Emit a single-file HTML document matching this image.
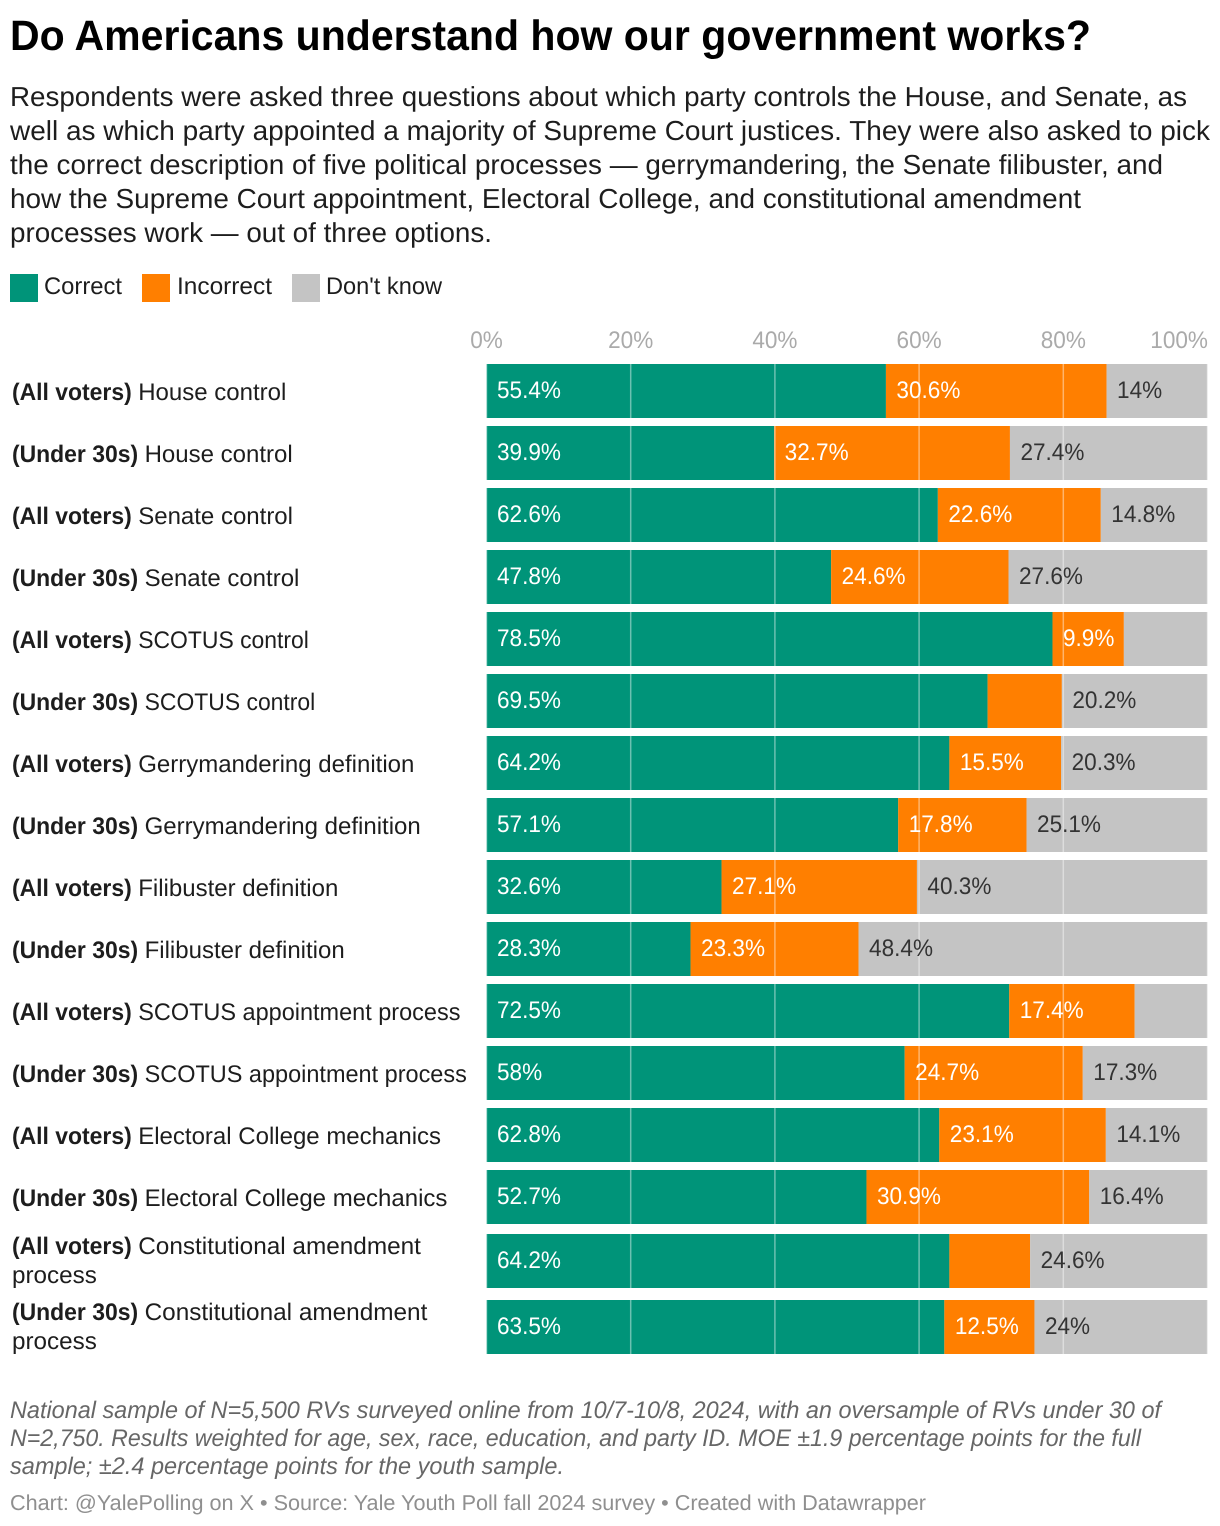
<!DOCTYPE html>
<html lang="en">
<head>
<meta charset="utf-8">
<title>Do Americans understand how our government works?</title>
<style>
html,body{margin:0;padding:0;background:#fff;}
svg{display:block;font-family:"Liberation Sans",Arial,sans-serif;}
text{text-rendering:geometricPrecision;}
</style>
</head>
<body>
<svg id="chart" xmlns="http://www.w3.org/2000/svg" width="1220" height="1526" viewBox="0 0 1220 1526">
  <rect x="0" y="0" width="1220" height="1526" fill="#ffffff"/>
  <text x="10" y="50" font-size="42.5" font-weight="700" fill="#000" textLength="1081" lengthAdjust="spacingAndGlyphs">Do Americans understand how our government works?</text>
  <g font-size="27.5" fill="#1d1d1d">
    <text x="10" y="106" textLength="1177" lengthAdjust="spacingAndGlyphs">Respondents were asked three questions about which party controls the House, and Senate, as</text>
    <text x="10" y="140" textLength="1200" lengthAdjust="spacingAndGlyphs">well as which party appointed a majority of Supreme Court justices. They were also asked to pick</text>
    <text x="10" y="174" textLength="1153" lengthAdjust="spacingAndGlyphs">the correct description of five political processes — gerrymandering, the Senate filibuster, and</text>
    <text x="10" y="208" textLength="1071" lengthAdjust="spacingAndGlyphs">how the Supreme Court appointment, Electoral College, and constitutional amendment</text>
    <text x="10" y="242" textLength="482" lengthAdjust="spacingAndGlyphs">processes work — out of three options.</text>
  </g>
  <g font-size="24" fill="#1d1d1d">
    <g>
      <rect x="10" y="274" width="28" height="28" fill="#009479"/>
      <text x="44" y="294" textLength="78" lengthAdjust="spacingAndGlyphs">Correct</text>
    </g>
    <g>
      <rect x="142" y="274" width="28" height="28" fill="#ff7f00"/>
      <text x="177" y="294" textLength="95" lengthAdjust="spacingAndGlyphs">Incorrect</text>
    </g>
    <g>
      <rect x="292" y="274" width="28" height="28" fill="#c4c4c4"/>
      <text x="326" y="294" textLength="116" lengthAdjust="spacingAndGlyphs">Don't know</text>
    </g>
  </g>
  <g id="plot"></g>
  <g font-size="24" font-style="italic" fill="#666666">
    <text x="10" y="1418" textLength="1151" lengthAdjust="spacingAndGlyphs">National sample of N=5,500 RVs surveyed online from 10/7-10/8, 2024, with an oversample of RVs under 30 of</text>
    <text x="10" y="1446" textLength="1131" lengthAdjust="spacingAndGlyphs">N=2,750. Results weighted for age, sex, race, education, and party ID. MOE ±1.9 percentage points for the full</text>
    <text x="10" y="1474" textLength="554" lengthAdjust="spacingAndGlyphs">sample; ±2.4 percentage points for the youth sample.</text>
  </g>
  <text x="10" y="1510" font-size="21.5" fill="#8f8f8f" textLength="916" lengthAdjust="spacingAndGlyphs">Chart: @YalePolling on X • Source: Yale Youth Poll fall 2024 survey • Created with Datawrapper</text>
</svg>
<script>
const groups = ['All voters','Under 30s','All voters','Under 30s','All voters','Under 30s','All voters','Under 30s','All voters','Under 30s','All voters','Under 30s','All voters','Under 30s','All voters','Under 30s'];
const topics = ['House control','House control','Senate control','Senate control','SCOTUS control','SCOTUS control','Gerrymandering definition','Gerrymandering definition','Filibuster definition','Filibuster definition','SCOTUS appointment process','SCOTUS appointment process','Electoral College mechanics','Electoral College mechanics','Constitutional amendment|process','Constitutional amendment|process'];
const correct = [55.4,39.9,62.6,47.8,78.5,69.5,64.2,57.1,32.6,28.3,72.5,58,62.8,52.7,64.2,63.5];
const incorrect = [30.6,32.7,22.6,24.6,9.9,10.3,15.5,17.8,27.1,23.3,17.4,24.7,23.1,30.9,11.2,12.5];
const dontKnow = [14,27.4,14.8,27.6,11.6,20.2,20.3,25.1,40.3,48.4,10.1,17.3,14.1,16.4,24.6,24];
const hiddenIncorrectLabels = [5,14];
const hiddenDontKnowLabels = [4,10];
const axisTicks = [0,20,40,60,80,100];

const NS = 'http://www.w3.org/2000/svg';
const plot = document.getElementById('plot');
const X0 = 486.5, PX_PER_PCT = 7.21, FIRST_TOP = 364, BAR_H = 54, STEP = 62, WRAP_PAD = 2;
const NUM_SCALE = 0.94, BOLD_SCALE = 0.955;
const xScale = v => X0 + v * PX_PER_PCT;

function make(tag, parent, attrs) {
  const el = document.createElementNS(NS, tag);
  for (const k in attrs) el.setAttribute(k, attrs[k]);
  parent.appendChild(el);
  return el;
}
function squeeze(el, x, y, f) {
  el.setAttribute('transform', 'translate(' + x + ',' + y + ') scale(' + f + ',1)');
}
function topicScale(text) {
  if (text === 'SCOTUS control') return 0.955;
  if (text === 'SCOTUS appointment process') return 0.978;
  if (text === 'Constitutional amendment') return 1.014;
  return 1;
}

const rowTops = [];
let runningTop = FIRST_TOP;
topics.forEach((t, i) => {
  rowTops.push(runningTop);
  const wrapped = t.indexOf('|') >= 0;
  const nextWrapped = i + 1 < topics.length && topics[i + 1].indexOf('|') >= 0;
  runningTop += STEP + (wrapped ? WRAP_PAD : 0) + (nextWrapped ? WRAP_PAD : 0);
});

const seriesDefs = [
  {key:'correct', values:correct, fill:'#009479', labelFill:'#ffffff', hidden:[]},
  {key:'incorrect', values:incorrect, fill:'#ff7f00', labelFill:'#ffffff', hidden:hiddenIncorrectLabels},
  {key:'dont-know', values:dontKnow, fill:'#c4c4c4', labelFill:'#333333', hidden:hiddenDontKnowLabels}
];

// axis labels
const axisGroup = make('g', plot, {});


axisTicks.forEach((t, i) => {
  const anchor = i === axisTicks.length - 1 ? 'end' : 'middle';
  const label = make('text', axisGroup, {'font-size':'24', fill:'#aaaaaa', 'text-anchor':anchor});
  
  
  label.textContent = t + '%';
  squeeze(label, xScale(t) + (anchor === 'end' ? 0.5 : 0), 348, NUM_SCALE);
});

// bars
const barsGroup = make('g', plot, {});


topics.forEach((t, i) => {
  let cum = 0;
  seriesDefs.forEach(s => {
    const v = s.values[i];
    const bar = make('rect', barsGroup, {x:xScale(cum), y:rowTops[i], width:v * PX_PER_PCT, height:BAR_H, fill:s.fill});
    
    
    cum += v;
  });
});

// gridlines
const gridGroup = make('g', plot, {});


axisTicks.forEach(t => {
  const line = make('line', gridGroup, {x1:xScale(t), x2:xScale(t), y1:FIRST_TOP, y2:rowTops[rowTops.length - 1] + BAR_H, stroke:'#ffffff', 'stroke-opacity':'0.42', 'stroke-width':'1.5'});
  
  
});

// value labels
const valuesGroup = make('g', plot, {});


topics.forEach((t, i) => {
  let cum = 0;
  seriesDefs.forEach(s => {
    const v = s.values[i];
    if (s.hidden.indexOf(i) < 0) {
      const label = make('text', valuesGroup, {'font-size':'24', fill:s.labelFill});
      
      
      label.textContent = v + '%';
      squeeze(label, xScale(cum) + 10.5, rowTops[i] + 34, NUM_SCALE);
    }
    cum += v;
  });
});

// row labels
const rowLabels = make('g', plot, {});


topics.forEach((t, i) => {
  const parts = t.split('|');
  const y = parts.length > 1 ? rowTops[i] + 20 : rowTops[i] + 36;
  const bold = make('text', rowLabels, {'font-size':'24', 'font-weight':'700', fill:'#1d1d1d'});
  
  
  bold.textContent = '(' + groups[i] + ')';
  squeeze(bold, 12, y, BOLD_SCALE);
  const topicX = 12 + bold.getComputedTextLength() * BOLD_SCALE + 6.5;
  const topic = make('text', rowLabels, {'font-size':'24', fill:'#1d1d1d'});
  
  
  topic.textContent = parts[0];
  squeeze(topic, topicX, y, topicScale(parts[0]));
  if (parts.length > 1) {
    const second = make('text', rowLabels, {'font-size':'24', fill:'#1d1d1d'});
    
    
    second.textContent = parts[1];
    squeeze(second, 12, y + 29, 1.01);
  }
});
</script>
</body>
</html>
